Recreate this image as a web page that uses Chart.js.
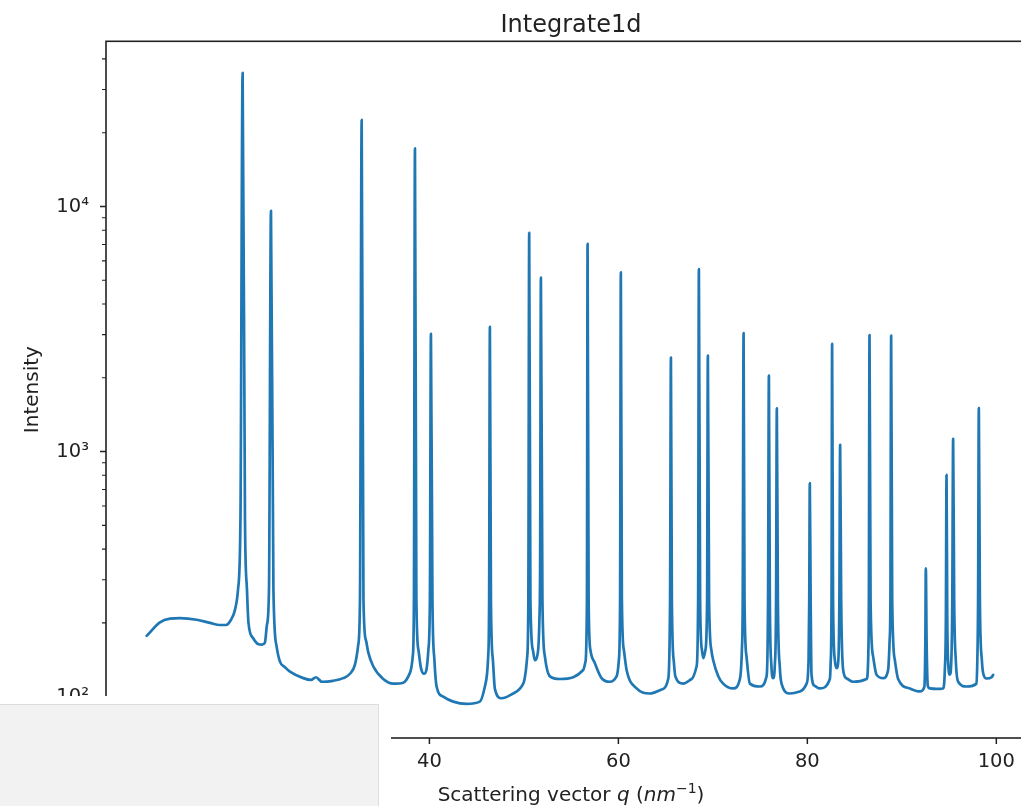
<!DOCTYPE html>
<html>
<head>
<meta charset="utf-8">
<title>Integrate1d</title>
<script src="https://cdn.jsdelivr.net/npm/chart.js@4.4.1/dist/chart.umd.min.js"></script>
<style>
  html, body { margin: 0; padding: 0; overflow: hidden; background: #fff; width: 1021px; height: 806px; }
  #wrap { position: relative; width: 1050px; height: 806px; }
  #chart { position: absolute; left: 0; top: 0; }
  #mask { position: absolute; left: 0; top: 696px; width: 391px; height: 110px; background: #fff; }
  #panel { position: absolute; left: 0; top: 704px; width: 379px; height: 102px; background: #f2f2f2;
           border-top: 1px solid #dddddd; border-right: 1px solid #dddddd; box-sizing: border-box; }
</style>
</head>
<body>
<div id="wrap">
  <canvas id="chart" width="1050" height="806"></canvas>
  <div id="mask"></div>
  <div id="panel"></div>
</div>
<script>
// Scattering vector q (nm^-1)
const q = [
  10.07, 11.48, 12.54, 13.60, 15.37, 16.77, 17.83, 18.47, 19.00, 19.42, 19.74, 20.00, 20.23, 20.48, 20.69, 20.85,
  21.35, 21.85, 22.28, 22.59, 22.80, 23.02, 23.23, 23.49, 23.83, 24.18, 24.70, 25.24, 26.65, 27.46, 27.99, 28.62,
  29.79, 30.88, 31.59, 32.12, 32.47, 32.65, 32.83, 33.02, 33.28, 33.52, 34.05, 35.11, 36.17, 37.23, 37.94, 38.25,
  38.36, 38.47, 38.62, 38.84, 39.10, 39.42, 39.68, 39.89, 40.05, 40.16, 40.32, 40.53, 40.76, 41.46, 42.52, 43.94,
  45.34, 45.87, 46.22, 46.32, 46.40, 46.51, 46.72, 46.93, 47.64, 48.87, 49.93, 50.35, 50.47, 50.56, 50.69, 50.95,
  51.16, 51.43, 51.64, 51.72, 51.80, 51.96, 52.22, 52.75, 53.81, 55.22, 56.28, 56.51, 56.67, 56.74, 56.85, 57.04,
  57.51, 58.22, 59.10, 59.81, 60.05, 60.18, 60.26, 60.37, 60.58, 60.87, 61.93, 63.33, 64.74, 65.27, 65.47, 65.56,
  65.66, 65.87, 66.03, 66.86, 67.75, 68.28, 68.44, 68.52, 68.65, 68.84, 69.00, 69.21, 69.39, 69.47, 69.60, 69.84,
  70.03, 70.56, 71.09, 72.15, 72.86, 73.07, 73.16, 73.25, 73.35, 73.56, 73.92, 74.97, 75.68, 75.84, 75.93, 76.03,
  76.19, 76.38, 76.56, 76.69, 76.77, 76.88, 77.09, 77.27, 78.15, 79.21, 79.92, 80.13, 80.20, 80.26, 80.35, 80.44,
  80.79, 81.32, 82.38, 82.46, 82.56, 82.62, 82.72, 82.91, 83.09, 83.28, 83.39, 83.47, 83.58, 83.79, 84.18, 84.85,
  86.27, 86.46, 86.51, 86.58, 86.69, 86.96, 87.32, 88.02, 88.55, 88.71, 88.79, 88.87, 88.98, 89.26, 89.61, 90.85,
  91.90, 92.38, 92.49, 92.54, 92.62, 92.75, 92.96, 93.67, 94.37, 94.55, 94.66, 94.73, 94.81, 94.92, 95.08, 95.24,
  95.34, 95.43, 95.54, 95.71, 95.96, 96.85, 97.90, 97.99, 98.07, 98.15, 98.26, 98.47, 98.61, 98.97, 99.50, 99.67
];

// Integrated intensity (counts)
const intensity = [
  177, 201, 208, 209, 206, 200, 196, 196, 206, 226, 273, 526, 35130, 526, 273, 200,
  173, 164, 163, 166, 196, 273, 9600, 273, 160, 139, 132, 126.5, 119, 117, 120, 115,
  116, 119, 124, 135, 163, 248, 22590, 248, 170, 152, 133, 118, 113, 114, 125, 148,
  248, 17250, 248, 155, 131, 124, 128.5, 155, 248, 3020, 248, 141, 110, 100, 95.4, 93.4,
  95.4, 110, 146, 248, 3230, 248, 141, 107.5, 98.5, 103, 113, 146, 248, 7810, 248, 155,
  141, 148, 206, 361, 5120, 248, 146, 121, 118, 120, 128.5, 138.5, 248, 7040, 248, 155,
  137, 119, 115, 121, 141, 248, 5380, 248, 155, 128.5, 108, 103, 107.5, 118, 248, 2420,
  248, 138.5, 121, 113, 118, 133, 248, 5550, 248, 155, 143.5, 155, 248, 2465, 248, 155,
  141, 121.5, 113, 108, 118, 155, 248, 3040, 248, 146, 113, 110, 121, 248, 2040, 248,
  135, 119, 135, 248, 1500, 248, 131, 113, 103, 105, 113, 141, 248, 743, 248, 123,
  110.6, 108, 118, 135, 248, 2750, 248, 141, 130.6, 141, 248, 1065, 248, 128.5, 118.6, 115,
  118, 155, 248, 2990, 248, 146, 123, 119, 128.5, 170, 248, 2970, 248, 141, 118, 108,
  105, 109.5, 170, 334, 170, 110.6, 108, 107.5, 108, 128.5, 206, 803, 206, 135, 123, 141,
  248, 1127, 248, 141, 115, 110, 113, 141, 248, 1503, 248, 141, 124.6, 118.6, 120, 122.7
];

// Axis ticks
const xTicks = [20, 40, 60, 80, 100];
const yMajorTicks = [100, 1000, 10000];
const yMinorTicks = [70, 80, 90, 200, 300, 400, 500, 600, 700, 800, 900,
                     2000, 3000, 4000, 5000, 6000, 7000, 8000, 9000, 20000, 30000, 40000];

const FONT = "'DejaVu Sans', sans-serif";
const INK = '#222222';
const LINE_BLUE = '#1f77b4';
const SUPERSCRIPT = { '0': '⁰', '1': '¹', '2': '²', '3': '³', '4': '⁴', '5': '⁵' };

// Frame (all four spines) and outward tick marks
const frameAndTicks = {
  id: 'frameAndTicks',
  afterDatasetsDraw(chart) {
    const { ctx, chartArea: a, scales: { x, y } } = chart;
    ctx.save();
    ctx.strokeStyle = INK;
    ctx.lineWidth = 1.5;
    ctx.beginPath();
    xTicks.forEach(v => {
      const px = x.getPixelForValue(v);
      ctx.moveTo(px, a.bottom);
      ctx.lineTo(px, a.bottom + 6);
    });
    yMajorTicks.forEach(v => {
      const py = y.getPixelForValue(v);
      ctx.moveTo(a.left - 6, py);
      ctx.lineTo(a.left, py);
    });
    ctx.stroke();
    ctx.lineWidth = 1.1;
    ctx.beginPath();
    yMinorTicks.forEach(v => {
      const py = y.getPixelForValue(v);
      ctx.moveTo(a.left - 4, py);
      ctx.lineTo(a.left, py);
    });
    ctx.stroke();
    ctx.lineWidth = 1.6;
    ctx.strokeRect(a.left, a.top, a.right - a.left, a.bottom - a.top);
    ctx.restore();
  }
};

// x axis title with italic symbols and a superscript unit exponent
const xAxisTitle = {
  id: 'xAxisTitle',
  afterDraw(chart) {
    const { ctx, chartArea: a } = chart;
    const normal = `20px ${FONT}`;
    const italic = `italic 20px ${FONT}`;
    const small = `14px ${FONT}`;
    const parts = [
      { t: 'Scattering vector ', f: normal, dy: 0 },
      { t: 'q', f: italic, dy: 0 },
      { t: ' (', f: normal, dy: 0 },
      { t: 'nm', f: italic, dy: 0 },
      { t: '\u22121', f: small, dy: -8 },
      { t: ')', f: normal, dy: 0 }
    ];
    ctx.save();
    ctx.fillStyle = INK;
    ctx.textBaseline = 'alphabetic';
    ctx.textAlign = 'left';
    let total = 0;
    parts.forEach(p => { ctx.font = p.f; p.w = ctx.measureText(p.t).width; total += p.w; });
    let cx = (a.left + a.right) / 2 - total / 2;
    const base = 801;
    parts.forEach(p => { ctx.font = p.f; ctx.fillText(p.t, cx, base + p.dy); cx += p.w; });
    ctx.restore();
  }
};

new Chart(document.getElementById('chart'), {
  type: 'line',
  data: {
    datasets: [{
      data: q.map((v, i) => ({ x: v, y: intensity[i] })),
      borderColor: LINE_BLUE,
      borderWidth: 2.7,
      pointRadius: 0,
      fill: false,
      cubicInterpolationMode: 'monotone',
      borderJoinStyle: 'round',
      borderCapStyle: 'round'
    }]
  },
  options: {
    responsive: false,
    animation: false,
    devicePixelRatio: 1,
    events: [],
    layout: { padding: { left: 0, right: 14, top: 0, bottom: 0 } },
    plugins: {
      legend: { display: false },
      tooltip: { enabled: false },
      title: {
        display: true,
        fullSize: false,
        text: 'Integrate1d',
        color: INK,
        font: { family: FONT, size: 24, weight: 'normal', lineHeight: 1.2 },
        padding: { top: 11, bottom: 1.5 }
      }
    },
    scales: {
      x: {
        type: 'linear',
        min: 5.77,
        max: 104.2,
        grid: { display: false, drawTicks: false },
        border: { display: false },
        afterBuildTicks: s => { s.ticks = xTicks.map(v => ({ value: v })); },
        afterFit: s => { s.height = 68; },
        ticks: {
          padding: 12,
          color: INK,
          autoSkip: false,
          maxRotation: 0,
          font: { family: FONT, size: 19.5 },
          callback: v => String(v)
        }
      },
      y: {
        type: 'logarithmic',
        min: 67.8,
        max: 47200,
        grid: { display: false, drawTicks: false },
        border: { display: false },
        afterBuildTicks: s => { s.ticks = yMajorTicks.map(v => ({ value: v })); },
        afterFit: s => { s.width = 106; },
        ticks: {
          padding: 17,
          color: INK,
          autoSkip: false,
          font: { family: FONT, size: 19.5 },
          callback: v => {
            const e = String(Math.round(Math.log10(v)));
            return '10' + e.split('').map(c => SUPERSCRIPT[c]).join('');
          }
        },
        title: {
          display: true,
          text: 'Intensity',
          color: INK,
          font: { family: FONT, size: 20, lineHeight: 1.2 },
          padding: { top: 21, bottom: 0 }
        }
      }
    }
  },
  plugins: [frameAndTicks, xAxisTitle]
});
</script>
</body>
</html>
